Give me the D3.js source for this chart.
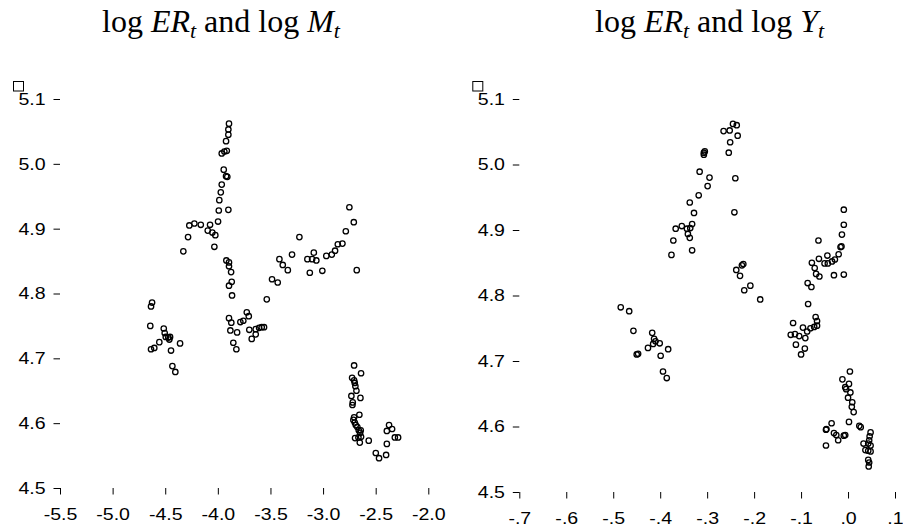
<!DOCTYPE html>
<html>
<head>
<meta charset="utf-8">
<script src="https://cdn.jsdelivr.net/npm/d3@7"></script>
<style>
  body { margin: 0; background: #fff; }
  svg { display: block; }
</style>
</head>
<body>
<div id="chart"></div>
<script>
// log ER against log M (left panel)
var logM = [-3.894,-3.900,-3.900,-3.922,-3.938,-3.915,-3.963,-3.944,-3.922,-3.910,-3.963,-3.972,-3.986,-3.991,-3.900,-3.998,
  -4.271,-4.223,-4.162,-4.074,-4.096,-4.052,-4.024,-4.283,-4.328,-4.033,
  -3.919,-3.894,-3.894,-3.874,-3.868,-3.894,-3.865,-3.894,-3.872,-3.881,-3.817,-3.853,-3.824,-3.786,-3.758,-3.725,-3.706,-3.701,-3.640,-3.608,-3.583,-3.561,-3.678,-3.640,
  -3.535,-3.485,-3.431,-3.415,-3.383,-3.335,-3.295,-3.225,-3.149,-3.104,-3.064,-3.088,-3.126,-3.007,-2.969,-2.917,-2.886,-2.860,-2.816,-2.784,-2.750,-2.708,-2.680,
  -2.705,-2.639,-2.724,-2.705,-2.699,-2.693,-2.683,-2.731,-2.645,-2.718,-2.721,-2.655,-2.705,-2.712,-2.699,-2.689,-2.674,-2.661,-2.648,-2.642,-2.696,-2.664,-2.639,-2.651,-2.566,-2.373,-2.344,-2.394,-2.318,-2.287,-2.394,-2.499,-2.468,-2.401,
  -4.625,-4.635,-4.642,-4.514,-4.505,-4.495,-4.471,-4.454,-4.461,-4.556,-4.635,-4.604,-4.359,-4.445,-4.432,-4.404];
var logER_M = [5.062,5.053,5.045,5.035,5.019,5.020,5.016,4.991,4.981,4.980,4.968,4.956,4.944,4.928,4.929,4.911,
  4.905,4.908,4.906,4.906,4.897,4.894,4.890,4.887,4.865,4.872,
  4.851,4.848,4.842,4.833,4.818,4.812,4.797,4.762,4.755,4.743,4.740,4.724,4.714,4.756,4.758,4.771,4.765,4.744,4.745,4.747,4.748,4.748,4.730,4.737,
  4.791,4.822,4.817,4.853,4.844,4.836,4.860,4.887,4.853,4.853,4.851,4.863,4.832,4.835,4.858,4.860,4.866,4.876,4.877,4.896,4.933,4.910,4.836,
  4.689,4.677,4.670,4.666,4.662,4.657,4.650,4.642,4.639,4.632,4.628,4.613,4.609,4.605,4.601,4.597,4.594,4.589,4.585,4.589,4.577,4.578,4.579,4.570,4.573,4.597,4.591,4.588,4.578,4.578,4.568,4.554,4.546,4.551,
  4.786,4.780,4.750,4.746,4.739,4.733,4.732,4.733,4.729,4.725,4.714,4.716,4.723,4.712,4.688,4.679];

// log ER against log Y (right panel)
var logY = [-0.245,-0.237,-0.265,-0.252,-0.235,-0.251,-0.254,-0.307,-0.305,-0.307,-0.316,-0.295,-0.299,-0.318,-0.240,-0.337,-0.328,-0.242,-0.332,-0.336,-0.343,-0.354,-0.367,-0.341,-0.337,
  -0.372,-0.376,-0.332,-0.223,-0.226,-0.238,-0.230,-0.208,-0.221,-0.187,
  -0.009,-0.009,-0.013,-0.063,-0.016,-0.014,-0.020,-0.044,-0.028,-0.034,-0.043,-0.050,-0.062,-0.077,-0.071,-0.068,-0.061,-0.030,-0.009,-0.086,-0.078,-0.085,
  -0.069,-0.066,-0.066,-0.072,-0.080,-0.087,-0.096,-0.117,-0.122,-0.113,-0.104,-0.091,-0.111,-0.092,-0.100,
  -0.484,-0.466,-0.457,-0.417,-0.413,-0.410,-0.415,-0.401,-0.426,-0.383,-0.450,-0.447,-0.399,-0.394,-0.386,
  0.004,-0.012,0.002,-0.006,-0.004,0.005,0.000,0.009,0.008,0.012,0.002,-0.035,-0.046,-0.047,-0.030,-0.025,-0.021,-0.006,-0.009,0.024,0.027,-0.047,0.048,0.046,0.045,0.043,0.033,0.048,0.037,0.043,0.048,0.043,0.045,0.044];
var logER_Y = [5.062,5.060,5.051,5.052,5.044,5.034,5.018,5.018,5.020,5.015,4.989,4.980,4.967,4.953,4.979,4.942,4.926,4.927,4.909,4.903,4.902,4.906,4.902,4.894,4.888,
  4.884,4.862,4.869,4.848,4.846,4.839,4.830,4.815,4.808,4.794,
  4.931,4.908,4.893,4.884,4.874,4.875,4.863,4.861,4.855,4.852,4.849,4.849,4.856,4.850,4.842,4.833,4.829,4.831,4.832,4.819,4.813,4.787,
  4.767,4.761,4.754,4.752,4.750,4.745,4.751,4.758,4.740,4.741,4.738,4.735,4.725,4.719,4.710,
  4.782,4.776,4.746,4.743,4.734,4.730,4.726,4.727,4.720,4.718,4.710,4.711,4.708,4.684,4.674,
  4.684,4.672,4.665,4.660,4.657,4.652,4.644,4.637,4.630,4.622,4.607,4.605,4.596,4.595,4.590,4.587,4.579,4.587,4.586,4.601,4.599,4.571,4.591,4.585,4.579,4.574,4.574,4.571,4.564,4.563,4.562,4.549,4.545,4.539];

var yTicks = [4.5, 4.6, 4.7, 4.8, 4.9, 5.0, 5.1];
var mTicks = [-5.5, -5.0, -4.5, -4.0, -3.5, -3.0, -2.5, -2.0];
var yxTicks = [-0.7, -0.6, -0.5, -0.4, -0.3, -0.2, -0.1, 0.0, 0.1];

var W = 903, H = 526;
var svg = d3.select("#chart").append("svg").attr("width", W).attr("height", H);

// plain hyphen for negatives, like the original output
var fmt1 = d3.formatLocale({decimal: ".", thousands: ",", grouping: [3], currency: ["", ""], minus: "-"}).format(".1f");

// Stata-style ".7" labels for the right panel
function dotFormat(d) {
  return fmt1(d).replace(/^(-?)0\./, "$1.");
}

function drawTitle(x0, letter) {
  var t = svg.append("text").attr("x", x0).attr("y", 32)
    .style("font-family", "'Liberation Serif','Times New Roman',serif").style("font-size", "32px");
  t.append("tspan").text("log ");
  t.append("tspan").style("font-style", "italic").text("ER");
  t.append("tspan").style("font-style", "italic").style("font-size", "22px").attr("dy", 6).text("t");
  t.append("tspan").attr("dy", -6).text(" and log ");
  t.append("tspan").style("font-style", "italic").text(letter);
  t.append("tspan").style("font-style", "italic").style("font-size", "22px").attr("dy", 6).text("t");
}

function drawPanel(xs, ys, xDomain, xRange, yRange, xTicks, xFmt) {
  var x = d3.scaleLinear().domain(xDomain).range(xRange);
  var y = d3.scaleLinear().domain([4.5, 5.1]).range(yRange);

  var gx = svg.append("g").attr("transform", "translate(0," + yRange[0] + ")")
    .call(d3.axisBottom(x).tickValues(xTicks).tickSize(6.5).tickPadding(13).tickFormat(xFmt));
  var gy = svg.append("g").attr("transform", "translate(" + xRange[0] + ",0)")
    .call(d3.axisLeft(y).tickValues(yTicks).tickSize(6.5).tickPadding(6).tickFormat(fmt1));

  [gx, gy].forEach(function(g) {
    g.select(".domain").remove();
    g.selectAll("line").attr("stroke", "#000").attr("stroke-width", 1);
    g.selectAll("text").attr("fill", "#000")
      .style("font-family", "'Liberation Sans',Arial,sans-serif").style("font-size", "17px")
      .attr("transform", "scale(1.15,1)");
  });

  // little box drawn in the top-left corner of each panel
  svg.append("rect").attr("x", xRange[0] - 46.5).attr("y", 81.5).attr("width", 10).attr("height", 9.5)
    .attr("fill", "none").attr("stroke", "#000").attr("stroke-width", 1);

  svg.append("g").selectAll("circle").data(xs).enter().append("circle")
    .attr("cx", function(d) { return x(d); })
    .attr("cy", function(d, i) { return y(ys[i]); })
    .attr("r", 2.7)
    .attr("fill", "none").attr("stroke", "#000").attr("stroke-width", 1.3);
}

drawTitle(102, "M");
drawTitle(595, "Y");
drawPanel(logM, logER_M, [-5.5, -2.0], [60, 428.3], [488, 99], mTicks, fmt1);
drawPanel(logY, logER_Y, [-0.7, 0.1], [519.3, 895], [492, 99], yxTicks, dotFormat);
</script>
</body>
</html>
